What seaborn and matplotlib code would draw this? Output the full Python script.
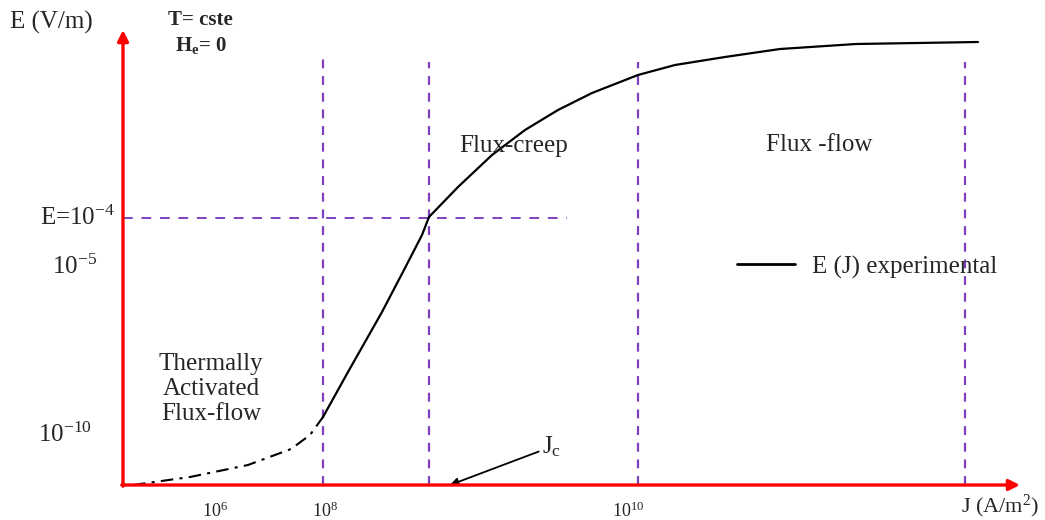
import matplotlib
matplotlib.use("Agg")
import matplotlib.pyplot as plt
import seaborn as sns

# schematic units: origin at the axes crossing, 1 unit ~ 1 px of the reference
# thermally activated flux-flow branch (dash-dot)
taff_j = [10, 67, 125, 168, 187, 200]
taff_e = [0, 8, 20, 36, 50, 68]

# measured E(J) branch (solid)
exp_j = [200, 225, 259, 282, 299, 306, 335, 369, 402, 435, 469, 515, 552, 602,
         657, 733, 855]
exp_e = [68, 113, 173, 217, 250, 268, 298, 330, 355, 375, 392, 410, 420, 428,
         436, 441, 443]

# regime boundaries
bound_j = [200, 306, 515, 842]
bound_top = [433, 423, 423, 423]
ec_level = 267
ec_end = 444

# tick labels
xtick_pos = [92, 202, 505]
xtick_labels = [r"$10^{6}$", r"$10^{8}$", r"$10^{10}$"]
ytick_pos = [267, 218, 50]
ytick_labels = [r"E=10$^{-4}$", r"10$^{-5}$", r"10$^{-10}$"]
ytick_right = [-8, -26, -31]

RED = "#ff0000"
PURPLE = "#7f3fbf"
FS = 18

sns.set_theme(style="white")
plt.rcParams["font.family"] = ["Liberation Serif", "DejaVu Serif"]
plt.rcParams["mathtext.fontset"] = "custom"
plt.rcParams["mathtext.rm"] = "Liberation Serif"
plt.rcParams["mathtext.it"] = "Liberation Serif"
plt.rcParams["mathtext.bf"] = "Liberation Serif:bold"

fig = plt.figure(figsize=(10.45, 5.2), dpi=100)
ax = fig.add_axes([0, 0, 1, 1])
ax.set_xlim(-123, 922)
ax.set_ylim(-35, 485)
ax.axis("off")

# regime boundaries
for xj, top in zip(bound_j, bound_top):
    ax.plot([xj, xj], [0, top], color=PURPLE, lw=1.6, dashes=(4, 3.5), zorder=1)
ax.plot([0, ec_end], [ec_level, ec_level], color=PURPLE, lw=1.4, dashes=(5, 4.5), zorder=1)

# curve
sns.lineplot(x=taff_j, y=taff_e, ax=ax, color="black", lw=1.5, sort=False,
             estimator=None, linestyle=(0, (6, 3, 1.5, 3)), zorder=3)
sns.lineplot(x=exp_j, y=exp_e, ax=ax, color="black", lw=1.6, sort=False,
             estimator=None, zorder=3)

# axes arrows
arrow = dict(arrowstyle="-|>", color=RED, lw=2.4, mutation_scale=16,
             shrinkA=0, shrinkB=0)
ax.annotate("", xy=(0, 455), xytext=(0, -1.2), arrowprops=arrow, zorder=4)
ax.annotate("", xy=(897, 0), xytext=(-1.2, 0), arrowprops=arrow, zorder=4)

# tick labels
for xp, lab in zip(xtick_pos, xtick_labels):
    ax.text(xp, -26, lab, ha="center", va="center", fontsize=13)
for xr, yp, lab in zip(ytick_right, ytick_pos, ytick_labels):
    ax.text(xr, yp, lab, ha="right", va="center", fontsize=FS)
ax.text(916, -21, r"J (A/m$^2$)", ha="right", va="center", fontsize=16)
ax.text(-113, 463, "E (V/m)", ha="left", va="center", fontsize=FS)

# conditions
ax.text(45, 465, "T= cste", ha="left", va="center", fontsize=15, fontweight="bold")
ax.text(52, 440, r"H$_\mathbf{e}$= 0", ha="left", va="center", fontsize=15,
        fontweight="bold")

# regime names
ax.text(391, 339, "Flux-creep", ha="center", va="center", fontsize=FS)
ax.text(696, 340, "Flux -flow", ha="center", va="center", fontsize=FS)
ax.text(88, 96, "Thermally\nActivated\nFlux-flow", ha="center", va="center",
        fontsize=FS, linespacing=1.2)

# legend entry
ax.plot([614, 672], [221, 221], color="black", lw=2)
ax.text(689, 218, "E (J) experimental", ha="left", va="center", fontsize=FS)

# Jc pointer
ax.annotate(r"J$_c$", xy=(327, 0), xytext=(419, 26), fontsize=FS,
            ha="left", va="bottom",
            arrowprops=dict(arrowstyle="-|>", color="black", lw=1.3,
                            mutation_scale=12, shrinkA=0, shrinkB=0))

fig.savefig("out.png", dpi=100)
